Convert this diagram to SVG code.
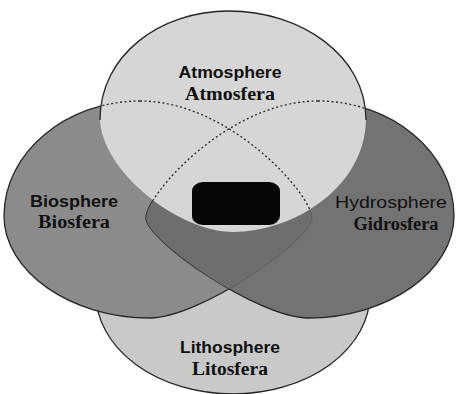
<svg xmlns="http://www.w3.org/2000/svg" xmlns:xlink="http://www.w3.org/1999/xlink" width="457" height="394" viewBox="0 0 457 394">
<style>
.outline{stroke:#262626;stroke-width:1.3;}
.sans{font-family:"Liberation Sans",Arial,sans-serif;font-weight:bold;font-size:16px;fill:#111;text-anchor:middle;}
.serif{font-family:"Liberation Serif","Times New Roman",serif;font-weight:bold;font-size:18px;fill:#111;text-anchor:middle;}
.dash{fill:none;stroke:#2e2e2e;stroke-width:1.4;stroke-dasharray:2 2.5;}
.inner{fill:none;stroke:#505050;stroke-width:0.9;opacity:0.6;}
</style>
<defs>
<path id="pBio" d="M140,101 C67,101 4,152 4,216 C4,271 70,318 150,318 C200,318 312,240 312,218 C312,195 230,101 140,101 Z"/>
<path id="pHydro" d="M318,101 C391,101 454,152 454,216 C454,271 388,318 308,318 C258,318 146,240 146,218 C146,195 228,101 318,101 Z"/>
<path id="pAtmo" d="M229,11 C300,11 366,55 366,118 C366,188 292,232 233,232 C178,232 100,170 100,118 C100,55 160,11 229,11 Z"/>
<clipPath id="cBio"><use xlink:href="#pBio"/></clipPath>
<clipPath id="cHydro"><use xlink:href="#pHydro"/></clipPath>
<clipPath id="cAtmo"><use xlink:href="#pAtmo"/></clipPath>
</defs>
<rect width="457" height="394" fill="#ffffff"/>
<g id="node-lithosphere">
<ellipse cx="233" cy="294" rx="137" ry="100" fill="#c9c9c9" class="outline"/>
</g>
<g id="node-biosphere">
<use xlink:href="#pBio" fill="#8b8b8b" class="outline"/>
</g>
<g id="node-hydrosphere">
<use xlink:href="#pHydro" fill="#737373" class="outline"/>
<use xlink:href="#pHydro" fill="#6e6e6e" clip-path="url(#cBio)"/>
</g>
<g id="overlap-lines">
<use xlink:href="#pBio" class="inner" clip-path="url(#cHydro)"/>
<use xlink:href="#pHydro" class="inner" clip-path="url(#cBio)"/>
</g>
<g id="node-atmosphere">
<use xlink:href="#pAtmo" fill="#d6d6d6"/>
<path d="M100,120 C100,55 160,11 229,11 C300,11 366,55 366,120" fill="none" class="outline"/>
<g clip-path="url(#cAtmo)">
<use xlink:href="#pBio" class="dash"/>
<use xlink:href="#pHydro" class="dash"/>
</g>
</g>
<g id="node-center">
<rect x="192" y="182" width="88" height="43" rx="11" ry="9" fill="#070707"/>
</g>
<g id="labels">
<text class="sans" x="230" y="78" textLength="103" lengthAdjust="spacingAndGlyphs">Atmosphere</text>
<text class="serif" x="230" y="100" textLength="90" lengthAdjust="spacingAndGlyphs">Atmosfera</text>
<text class="sans" x="74" y="207" textLength="88" lengthAdjust="spacingAndGlyphs">Biosphere</text>
<text class="serif" x="74" y="228" textLength="72" lengthAdjust="spacingAndGlyphs">Biosfera</text>
<text class="sans" x="391" y="208" style="font-weight:normal;font-size:17px" textLength="112" lengthAdjust="spacingAndGlyphs">Hydrosphere</text>
<text class="serif" x="396" y="230" textLength="85" lengthAdjust="spacingAndGlyphs">Gidrosfera</text>
<text class="sans" x="230" y="353" textLength="100" lengthAdjust="spacingAndGlyphs">Lithosphere</text>
<text class="serif" x="230" y="375" textLength="76" lengthAdjust="spacingAndGlyphs">Litosfera</text>
</g>
</svg>
